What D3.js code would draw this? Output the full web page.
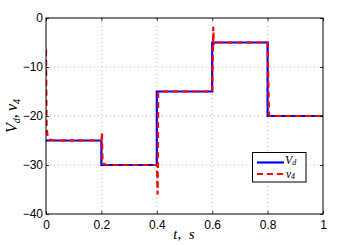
<!DOCTYPE html>
<html><head><meta charset="utf-8">
<script src="https://cdn.jsdelivr.net/npm/d3@7"></script>
<style>body{margin:0;background:#fff}svg{display:block}</style>
</head><body>
<svg id="c" width="357" height="245"></svg>
<script>
// Data
const vdTimes = [0, 0.2, 0.4, 0.6, 0.8, 1];
const vdValues = [-25, -30, -15, -5, -20, -20];
const v4Times = [0, 0.002, 0.006, 0.012, 0.03, 0.2, 0.202, 0.204, 0.21, 0.22, 0.4, 0.403, 0.405, 0.41, 0.6, 0.604, 0.606, 0.608, 0.615, 0.8, 0.805, 0.81, 1];
const v4Values = [-6.5, -22, -24.3, -24.8, -25, -25, -23.5, -29.5, -29.8, -30, -30, -36, -15.3, -15, -15, -1.8, -5.5, -4.6, -5, -5, -19.7, -20, -20];
const xTicks = [0, 0.2, 0.4, 0.6, 0.8, 1];
const yTicks = [0, -10, -20, -30, -40];

const svg = d3.select('#c');
const L = 46, R = 323, T = 18, B = 214;
const x = d3.scaleLinear().domain([0, 1]).range([L, R]);
const y = d3.scaleLinear().domain([-40, 0]).range([B, T]);

// grid
const g = svg.append('g');
g.selectAll('.gx').data(xTicks.slice(1, -1)).join('line')
  .attr('x1', d => x(d)).attr('x2', d => x(d)).attr('y1', T).attr('y2', B)
  .attr('stroke', '#aaa').attr('stroke-width', 0.8).attr('stroke-dasharray', '1,3');
g.selectAll('.gy').data(yTicks.slice(1, -1)).join('line')
  .attr('y1', d => y(d)).attr('y2', d => y(d)).attr('x1', L).attr('x2', R)
  .attr('stroke', '#aaa').attr('stroke-width', 0.8).attr('stroke-dasharray', '1,3');

// lines
const vd = vdTimes.map((t, i) => [t, vdValues[i]]);
const v4 = v4Times.map((t, i) => [t, v4Values[i]]);
svg.append('clipPath').attr('id', 'clp').append('rect')
  .attr('x', L).attr('y', T - 2).attr('width', R - L).attr('height', B - T + 4);
svg.append('path').datum(vd)
  .attr('d', d3.line().x(d => x(d[0])).y(d => y(d[1])).curve(d3.curveStepAfter))
  .attr('fill', 'none').attr('stroke', '#0000ff').attr('stroke-width', 2.2)
  .attr('clip-path', 'url(#clp)');
svg.append('path').datum(v4)
  .attr('d', d3.line().x(d => x(d[0])).y(d => y(d[1])))
  .attr('fill', 'none').attr('stroke', '#ff0000').attr('stroke-width', 2.2)
  .attr('stroke-dasharray', '6,4').attr('clip-path', 'url(#clp)');

// axes
const font = '"Liberation Sans", Arial, sans-serif';
const ax = svg.append('g').attr('transform', `translate(0,${B})`)
  .call(d3.axisBottom(x).tickValues(xTicks).tickSizeInner(-3).tickSizeOuter(0).tickPadding(6)
    .tickFormat(d => d3.format('')(d)));
const axT = svg.append('g').attr('transform', `translate(0,${T})`)
  .call(d3.axisTop(x).tickValues(xTicks).tickSizeInner(-3).tickSizeOuter(0).tickFormat(''));
const ay = svg.append('g').attr('transform', `translate(${L},0)`)
  .call(d3.axisLeft(y).tickValues(yTicks).tickSizeInner(-3).tickSizeOuter(0).tickPadding(3)
    .tickFormat(d => d < 0 ? '\u2212' + Math.abs(d) : d));
const ayR = svg.append('g').attr('transform', `translate(${R},0)`)
  .call(d3.axisRight(y).tickValues(yTicks).tickSizeInner(-3).tickSizeOuter(0).tickFormat(''));
[ax, axT, ay, ayR].forEach(a => {
  a.select('.domain').remove();
  a.selectAll('line').attr('stroke', '#000').attr('stroke-width', 0.8);
  a.selectAll('text').attr('font-family', font).attr('font-size', 12).attr('fill', '#000');
});
svg.append('rect').attr('x', L).attr('y', T).attr('width', R - L).attr('height', B - T)
  .attr('fill', 'none').attr('stroke', '#000').attr('stroke-width', 1);

// labels
const serif = '"Liberation Serif", "DejaVu Serif", serif';
const xl = svg.append('text').attr('x', 184).attr('y', 239).attr('text-anchor', 'middle')
  .attr('font-family', serif).attr('font-style', 'italic').attr('font-size', 15);
xl.append('tspan').text('t');
xl.append('tspan').attr('font-style', 'normal').text(',\u2002');
xl.append('tspan').text('s');

const yl = svg.append('text').attr('transform', `translate(17,${(T + B) / 2}) rotate(-90)`)
  .attr('text-anchor', 'middle').attr('font-family', serif).attr('font-style', 'italic').attr('font-size', 16);
yl.append('tspan').text('V');
yl.append('tspan').attr('font-size', 10).attr('dy', 3).text('d');
yl.append('tspan').attr('font-style', 'normal').attr('dy', -3).text(',\u2009');
yl.append('tspan').text('v');
yl.append('tspan').attr('font-size', 10).attr('dy', 3).text('4');

// legend
const lg = svg.append('g');
lg.append('rect').attr('x', 252.5).attr('y', 152.5).attr('width', 53.5).attr('height', 29.5)
  .attr('fill', '#fff').attr('stroke', '#000').attr('stroke-width', 1);
lg.append('line').attr('x1', 257).attr('x2', 284).attr('y1', 162.5).attr('y2', 162.5)
  .attr('stroke', '#0000ff').attr('stroke-width', 2.2);
lg.append('line').attr('x1', 257).attr('x2', 284).attr('y1', 174).attr('y2', 174)
  .attr('stroke', '#ff0000').attr('stroke-width', 2.2).attr('stroke-dasharray', '6,4');
const t1 = lg.append('text').attr('x', 285).attr('y', 164).attr('font-family', serif)
  .attr('font-style', 'italic').attr('font-size', 12);
t1.append('tspan').text('V');
t1.append('tspan').attr('font-size', 8).attr('dy', 1.2).text('d');
const t2 = lg.append('text').attr('x', 286).attr('y', 177.5).attr('font-family', serif)
  .attr('font-style', 'italic').attr('font-size', 11.5);
t2.append('tspan').text('v');
t2.append('tspan').attr('font-size', 8).attr('dy', 1.2).text('4');
</script>
</body></html>
